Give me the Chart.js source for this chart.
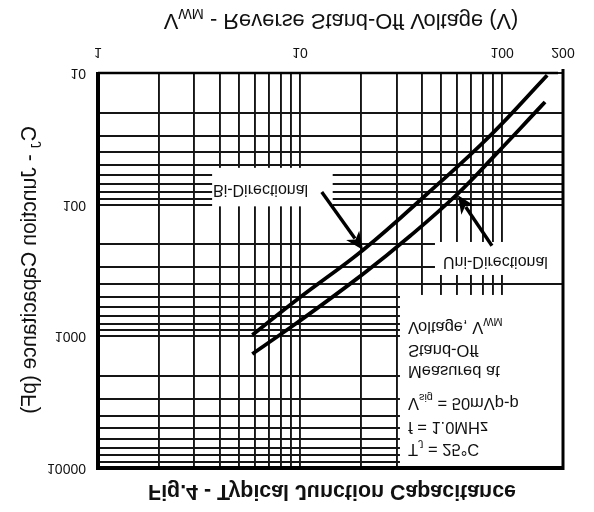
<!DOCTYPE html>
<html>
<head>
<meta charset="utf-8">
<script src="https://cdn.jsdelivr.net/npm/chart.js@4.4.1/dist/chart.umd.min.js"></script>
<style>
html, body { margin: 0; padding: 0; background: #ffffff; }
#wrap { width: 594px; height: 512px; transform: scaleY(-1); transform-origin: 50% 50%; }
canvas { display: block; }
</style>
</head>
<body>
<div id="wrap"><canvas id="chart" width="594" height="512"></canvas></div>
<script>
// ---------- data ----------
const biVoltage      = [5.8, 10, 20.5, 44, 87, 167];
const biCapacitance  = [976, 505, 221, 79, 30, 10.4];
const uniVoltage     = [5.8, 10, 20.5, 35, 60, 97.5, 163];
const uniCapacitance = [1361, 760, 336, 173, 83, 38.4, 16.6];

const xGridValues = [1, 2, 3, 4, 5, 6, 7, 8, 9, 10, 20, 30, 40, 50, 60, 70, 80, 90, 100, 200];
const yGridValues = [10, 20, 30, 40, 50, 60, 70, 80, 90, 100, 200, 300, 400, 500, 600, 700, 800, 900,
                     1000, 2000, 3000, 4000, 5000, 6000, 7000, 8000, 9000, 10000];
const xTickLabels = [1, 10, 100, 200];
const yTickLabels = [10, 100, 1000, 10000];

const captionText = [['Fig.4 - Typical Junction Capacitance', false]];
const xTitleText  = [['V', false], ['WM', true], [' - Reverse Stand-Off Voltage (V)', false]];
const yTitleText  = [['C', false], ['J', true], [' - Junction Capacitance (pF)', false]];
const biLabel  = [['Bi-Directional', false]];
const uniLabel = [['Uni-Directional', false]];
const noteLines = [
  [['T', false], ['J', true], [' = 25°C', false]],
  [['f = 1.0MHz', false]],
  [['V', false], ['sig', true], [' = 50mVp-p', false]],
  [['Measured at', false]],
  [['Stand-Off', false]],
  [['Voltage, V', false], ['WM', true]]
];

// ---------- drawing helpers ----------
const FONT = "'Liberation Sans', Arial, Helvetica, sans-serif";
const H = 512;
function fy(yRef) { return H - yRef; } // canvas is mirrored vertically by CSS

function richWidth(ctx, parts, size, weight) {
  let w = 0;
  for (const [t, sub] of parts) {
    ctx.font = weight + ' ' + (sub ? size * 0.66 : size) + 'px ' + FONT;
    w += ctx.measureText(t).width;
  }
  return w;
}
function fitSize(ctx, parts, weight, targetWidth) {
  return 100 * targetWidth / richWidth(ctx, parts, 100, weight);
}
function drawRich(ctx, parts, x, yCenter, size, weight, align) {
  const w = richWidth(ctx, parts, size, weight);
  let cx = align === 'center' ? x - w / 2 : x;
  const base = yCenter + size * 0.358;
  ctx.textAlign = 'left';
  ctx.textBaseline = 'alphabetic';
  ctx.fillStyle = '#111';
  for (const [t, sub] of parts) {
    const s = sub ? size * 0.66 : size;
    ctx.font = weight + ' ' + s + 'px ' + FONT;
    ctx.fillText(t, cx, sub ? base + size * 0.25 : base);
    cx += ctx.measureText(t).width;
  }
}
function drawArrow(ctx, x1, y1, x2, y2) {
  const ang = Math.atan2(y2 - y1, x2 - x1);
  const headLen = 18, headHalf = 8;
  const bx = x2 - headLen * Math.cos(ang), by = y2 - headLen * Math.sin(ang);
  ctx.strokeStyle = '#000';
  ctx.lineWidth = 3.4;
  ctx.lineCap = 'butt';
  ctx.beginPath(); ctx.moveTo(x1, y1); ctx.lineTo(bx + 4 * Math.cos(ang), by + 4 * Math.sin(ang)); ctx.stroke();
  ctx.fillStyle = '#000';
  ctx.beginPath();
  ctx.moveTo(x2, y2);
  ctx.lineTo(bx + headHalf * Math.sin(ang), by - headHalf * Math.cos(ang));
  ctx.lineTo(bx + 5 * Math.cos(ang), by + 5 * Math.sin(ang));
  ctx.lineTo(bx - headHalf * Math.sin(ang), by + headHalf * Math.cos(ang));
  ctx.closePath();
  ctx.fill();
}

const decorPlugin = {
  id: 'decor',
  beforeDatasetsDraw(chart) {
    const ctx = chart.ctx, xs = chart.scales.x, ys = chart.scales.y, a = chart.chartArea;
    ctx.save();
    ctx.fillStyle = '#ffffff';
    const box = (v1, v2, c1, c2) => {
      const x1 = xs.getPixelForValue(v1), x2 = v2 ? xs.getPixelForValue(v2) : a.right;
      const y1 = ys.getPixelForValue(c1), y2 = c2 ? ys.getPixelForValue(c2) : a.top;
      ctx.fillRect(Math.min(x1, x2), Math.min(y1, y2), Math.abs(x2 - x1), Math.abs(y2 - y1));
    };
    box(3.67, 14.5, 52.5, 103);   // Bi-Directional label
    box(46.5, null, 192, 342);    // Uni-Directional label
    box(31.2, null, 485, null);   // notes
    ctx.restore();
  },
  afterDatasetsDraw(chart) {
    const ctx = chart.ctx, xs = chart.scales.x, ys = chart.scales.y, a = chart.chartArea;
    ctx.save();
    // arrows
    drawArrow(ctx, xs.getPixelForValue(12.8), ys.getPixelForValue(80),
                   xs.getPixelForValue(20.5), ys.getPixelForValue(221));
    drawArrow(ctx, xs.getPixelForValue(89), ys.getPixelForValue(205),
                   xs.getPixelForValue(60.4), ys.getPixelForValue(85));
    // frame
    ctx.strokeStyle = '#000';
    ctx.lineWidth = 4;
    ctx.beginPath(); ctx.moveTo(a.left, a.top - 2); ctx.lineTo(a.left, a.bottom + 1); ctx.stroke(); // left
    ctx.beginPath(); ctx.moveTo(a.left - 2, a.top); ctx.lineTo(a.right, a.top); ctx.stroke();       // ref bottom
    ctx.lineWidth = 2.5;
    ctx.beginPath(); ctx.moveTo(a.left, a.bottom); ctx.lineTo(a.right - 5, a.bottom); ctx.stroke(); // ref top
    ctx.lineWidth = 3;
    ctx.beginPath(); ctx.moveTo(a.right, a.top - 2); ctx.lineTo(a.right, a.bottom + 4); ctx.stroke(); // right
    // labels inside the plot
    drawRich(ctx, biLabel, 213, fy(191), 16, 'normal', 'left');
    drawRich(ctx, uniLabel, 443, fy(263), 16, 'normal', 'left');
    const noteY = [450, 428, 404, 372, 351, 328];
    noteLines.forEach((ln, i) => drawRich(ctx, ln, 408, fy(noteY[i]), 16.5, 'normal', 'left'));
    ctx.restore();
  },
  afterDraw(chart) {
    const ctx = chart.ctx;
    ctx.save();
    const cs = fitSize(ctx, captionText, 'bold', 368);
    drawRich(ctx, captionText, 332, fy(493), cs, 'bold', 'center');
    const xsz = fitSize(ctx, xTitleText, 'normal', 355);
    drawRich(ctx, xTitleText, 341, fy(22), xsz, 'normal', 'center');
    const ysz = fitSize(ctx, yTitleText, 'normal', 288);
    ctx.translate(28, fy(270));
    ctx.rotate(-Math.PI / 2);
    drawRich(ctx, yTitleText, 0, 0, ysz, 'normal', 'center');
    ctx.restore();
  }
};

const toPoints = (xs, ys) => xs.map((v, i) => ({ x: v, y: ys[i] }));

new Chart(document.getElementById('chart'), {
  type: 'scatter',
  data: {
    datasets: [
      { label: 'Bi-Directional', data: toPoints(biVoltage, biCapacitance), showLine: true,
        borderColor: '#000', borderWidth: 3.8, pointRadius: 0, tension: 0.4, fill: false },
      { label: 'Uni-Directional', data: toPoints(uniVoltage, uniCapacitance), showLine: true,
        borderColor: '#000', borderWidth: 3.8, pointRadius: 0, tension: 0.4, fill: false }
    ]
  },
  options: {
    responsive: false,
    animation: false,
    events: [],
    layout: { padding: { left: 0, top: 44, right: 31, bottom: 0 } },
    plugins: { legend: { display: false }, tooltip: { enabled: false }, title: { display: false } },
    scales: {
      x: {
        type: 'logarithmic', position: 'bottom', min: 1, max: 200,
        afterFit(s) { s.height = 73; },
        afterBuildTicks(s) { s.ticks = xGridValues.map(v => ({ value: v })); },
        ticks: { autoSkip: false, maxRotation: 0, minRotation: 0, padding: 13, color: '#111',
                 font: { family: FONT, size: 14 },
                 callback: v => xTickLabels.includes(v) ? String(v) : '' },
        grid: { color: '#151515', lineWidth: 1.9, drawTicks: false },
        border: { display: false }
      },
      y: {
        type: 'logarithmic', position: 'left', min: 10, max: 10000,
        afterFit(s) { s.width = 98; },
        afterBuildTicks(s) { s.ticks = yGridValues.map(v => ({ value: v })); },
        ticks: { autoSkip: false, padding: 12, color: '#111',
                 font: { family: FONT, size: 14 },
                 callback: v => yTickLabels.includes(v) ? String(v) : '' },
        grid: { color: '#151515', lineWidth: 1.9, drawTicks: false },
        border: { display: false }
      }
    }
  },
  plugins: [decorPlugin]
});
</script>
</body>
</html>
